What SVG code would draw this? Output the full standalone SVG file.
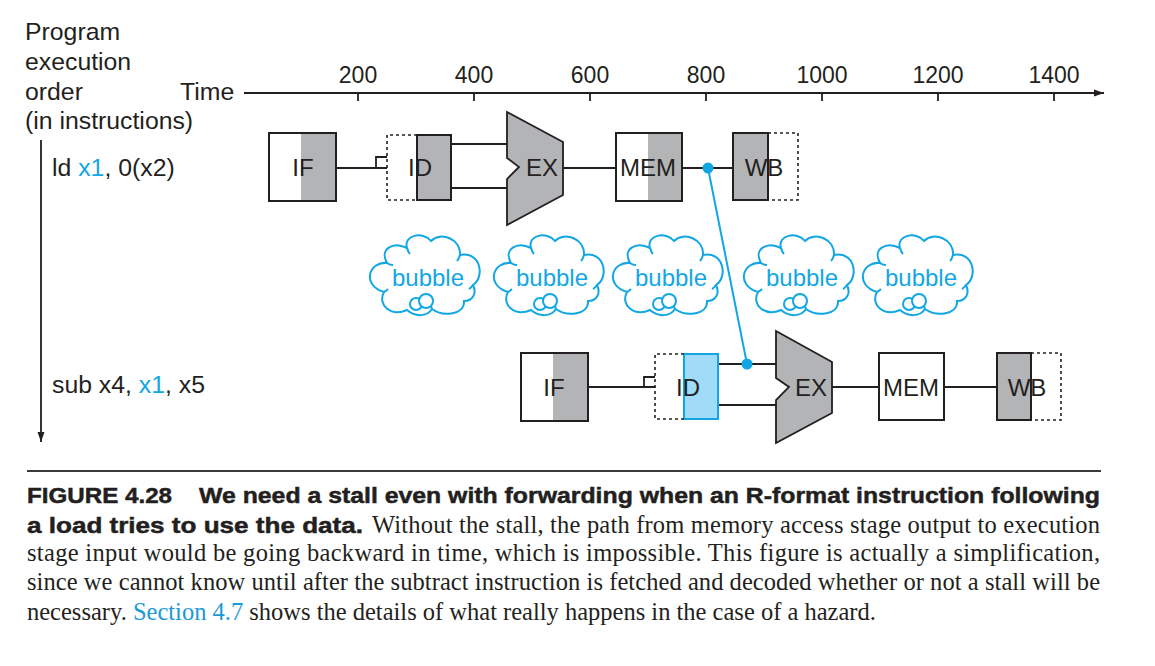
<svg xmlns="http://www.w3.org/2000/svg" width="1155" height="666" viewBox="0 0 1155 666">
<style>
.t{font-family:"Liberation Sans",Arial,sans-serif;font-size:24.8px;fill:#231f20}
.st{font-family:"Liberation Sans",Arial,sans-serif;font-size:24px;fill:#231f20;text-anchor:middle}
.ax{font-family:"Liberation Sans",Arial,sans-serif;font-size:23px;fill:#231f20;text-anchor:middle}
.blue{fill:#12a7e4}
.bt{font-family:"Liberation Sans",Arial,sans-serif;font-size:24px;fill:#12a7e4;text-anchor:middle}
.box{fill:#fff;stroke:#231f20;stroke-width:2}
.gray{fill:#b3b4b6}
.out{fill:none;stroke:#231f20;stroke-width:2}
.dash{fill:none;stroke:#231f20;stroke-width:1.6;stroke-dasharray:3 3}
.ex{fill:#b3b4b6;stroke:#231f20;stroke-width:1.8;stroke-linejoin:miter}
.ln{fill:none;stroke:#231f20;stroke-width:1.8}
.fw{fill:none;stroke:#12a7e4;stroke-width:2}
.cl{fill:#fff;stroke:#12a7e4;stroke-width:2}
.cap{font-family:"Liberation Sans",Arial,sans-serif;font-size:22.5px;font-weight:bold;fill:#231f20;stroke:#231f20;stroke-width:0.5}
.body{font-family:"Liberation Serif","Times New Roman",serif;font-size:24.5px;fill:#231f20}
</style>
<defs>
<marker id="ah" viewBox="0 0 10 10" refX="10" refY="5" markerWidth="10" markerHeight="10" markerUnits="userSpaceOnUse" orient="auto">
<path d="M0,1.5 L10,5 L0,8.5 Z" fill="#231f20"/>
</marker>
<g id="cloud">
<path class="cl" d="M -36,-12 C -54,-14 -62,10 -39,17 C -46,30 -32,42 -16,35 C -8,42 4,42 9,34 C 20,42 42,40 41,26 C 50,26 54,18 50,10 C 62,2 58,-24 37,-20 C 38,-36 18,-44 8,-34 C 0,-44 -20,-40 -16,-27 C -30,-34 -44,-26 -36,-12 Z"/>
<path class="fw" d="M -16,-27 q 1,4 3,6 M 37,-20 q -1,4 -3,6 M -36,-12 q 3,2 6,2 M 50,10 q -2,3 -4,4 M -39,17 q 2,-1 4,-3 M 9,34 q -1,-2 -1,-4"/>
<circle class="cl" cx="-7" cy="29" r="6"/>
<circle class="cl" cx="3" cy="26" r="7"/>
</g>
<clipPath id="clip4"><rect x="0" y="560" width="1155" height="30"/></clipPath>
</defs>

<g id="labels">
<text class="t" x="25" y="40">Program</text>
<text class="t" x="25" y="70">execution</text>
<text class="t" x="25" y="100">order</text>
<text class="t" x="25" y="129">(in instructions)</text>
<text class="t" x="180" y="100">Time</text>
<text class="t" x="52" y="176">ld <tspan class="blue">x1</tspan>, 0(x2)</text>
<text class="t" x="52" y="393">sub x4, <tspan class="blue">x1</tspan>, x5</text>
</g>

<g id="axes">
<line class="ln" x1="244" y1="93" x2="1104" y2="93" marker-end="url(#ah)"/>
<line class="ln" x1="41" y1="140" x2="41" y2="442" marker-end="url(#ah)"/>
<path class="ln" d="M358,93 V101 M474,93 V101 M590,93 V101 M706,93 V101 M822,93 V101 M938,93 V101 M1054,93 V101"/>
<text class="ax" x="358" y="83">200</text>
<text class="ax" x="474" y="83">400</text>
<text class="ax" x="590" y="83">600</text>
<text class="ax" x="706" y="83">800</text>
<text class="ax" x="822" y="83">1000</text>
<text class="ax" x="938" y="83">1200</text>
<text class="ax" x="1054" y="83">1400</text>
</g>

<g id="connectors">
<path class="ln" d="M336,168 H387 M376,168 V157 H387"/>
<path class="ln" d="M451,144 H507 M451,188 H507"/>
<path class="ln" d="M563,168 H616"/>
<path class="ln" d="M682,168 H733"/>
<path class="ln" d="M588,387 H655 M644,387 V377 H655"/>
<path class="ln" d="M718,364 H776 M718,405 H776"/>
<path class="ln" d="M832,387 H879"/>
<path class="ln" d="M944,387 H997"/>
<line class="fw" x1="708" y1="168" x2="747" y2="364"/>
<circle cx="708" cy="168" r="5.5" fill="#12a7e4"/>
<circle cx="747" cy="364" r="5.5" fill="#12a7e4"/>
</g>

<g id="ld-if">
<rect class="box" x="269" y="133" width="67" height="68"/>
<rect class="gray" x="301" y="134" width="34" height="66"/>
<rect class="out" x="269" y="133" width="67" height="68"/>
<text class="st" x="303" y="176">IF</text>
</g>
<g id="ld-id">
<rect x="417" y="135" width="34" height="65" class="gray" stroke="#231f20" stroke-width="2"/>
<path class="dash" d="M417,135 H387 V200 H417"/>
<text class="st" x="420" y="176">ID</text>
</g>
<g id="ld-ex">
<polygon class="ex" points="507,112 563,142 563,195 507,225 507,179 519,167 507,158"/>
<text class="st" x="542" y="176">EX</text>
</g>
<g id="ld-mem">
<rect class="box" x="616" y="133" width="66" height="68"/>
<rect class="gray" x="648" y="134" width="33" height="66"/>
<rect class="out" x="616" y="133" width="66" height="68"/>
<text class="st" x="648" y="176">MEM</text>
</g>
<g id="ld-wb">
<rect x="733" y="133" width="35" height="67" class="gray" stroke="#231f20" stroke-width="2"/>
<path class="dash" d="M768,133 H798 V200 H768"/>
<text class="st" x="764" y="176">WB</text>
</g>

<g id="bubble1"><use href="#cloud" x="423" y="275"/><text class="bt" x="428" y="286">bubble</text></g>
<g id="bubble2"><use href="#cloud" x="547" y="275"/><text class="bt" x="552" y="286">bubble</text></g>
<g id="bubble3"><use href="#cloud" x="666" y="275"/><text class="bt" x="671" y="286">bubble</text></g>
<g id="bubble4"><use href="#cloud" x="797" y="275"/><text class="bt" x="802" y="286">bubble</text></g>
<g id="bubble5"><use href="#cloud" x="916" y="275"/><text class="bt" x="921" y="286">bubble</text></g>

<g id="sub-if">
<rect class="box" x="521" y="353" width="67" height="68"/>
<rect class="gray" x="553" y="354" width="34" height="66"/>
<rect class="out" x="521" y="353" width="67" height="68"/>
<text class="st" x="554" y="396">IF</text>
</g>
<g id="sub-id">
<rect x="684" y="354" width="34" height="65" fill="#a0dcf7" stroke="#12a7e4" stroke-width="2"/>
<path class="dash" d="M684,354 H655 V419 H684"/>
<text class="st" x="688" y="396">ID</text>
</g>
<g id="sub-ex">
<polygon class="ex" points="776,331 832,362 832,413 776,443 776,400 789,387 776,378"/>
<text class="st" x="811" y="396">EX</text>
</g>
<g id="sub-mem">
<rect class="box" x="879" y="353" width="65" height="67"/>
<text class="st" x="911" y="396">MEM</text>
</g>
<g id="sub-wb">
<rect x="997" y="353" width="34" height="67" class="gray" stroke="#231f20" stroke-width="2"/>
<path class="dash" d="M1031,353 H1061 V420 H1031"/>
<text class="st" x="1027" y="396">WB</text>
</g>

<g id="caption">
<line x1="27" y1="471" x2="1101" y2="471" stroke="#3a3a3a" stroke-width="2"/>
<text class="cap" x="27" y="503" textLength="145" lengthAdjust="spacingAndGlyphs">FIGURE 4.28</text>
<text class="cap" x="199" y="503" textLength="901" lengthAdjust="spacingAndGlyphs">We need a stall even with forwarding when an R-format instruction following</text>
<text class="cap" x="27" y="533" textLength="336" lengthAdjust="spacingAndGlyphs">a load tries to use the data.</text>
<text class="body" x="372" y="533" textLength="728" lengthAdjust="spacing">Without the stall, the path from memory access stage output to execution</text>
<text class="body" x="27" y="561" textLength="1073" lengthAdjust="spacing">stage input would be going backward in time, which is impossible. This figure is actually a simplification,</text>
<text class="body" x="27" y="590" textLength="1073" lengthAdjust="spacing" clip-path="url(#clip4)">since we cannot know until after the subtract instruction is fetched and decoded whether or not a stall will be</text>
<text class="body" x="27" y="620">necessary. <tspan fill="#1a9ad6">Section 4.7</tspan> shows the details of what really happens in the case of a hazard.</text>
</g>
</svg>
